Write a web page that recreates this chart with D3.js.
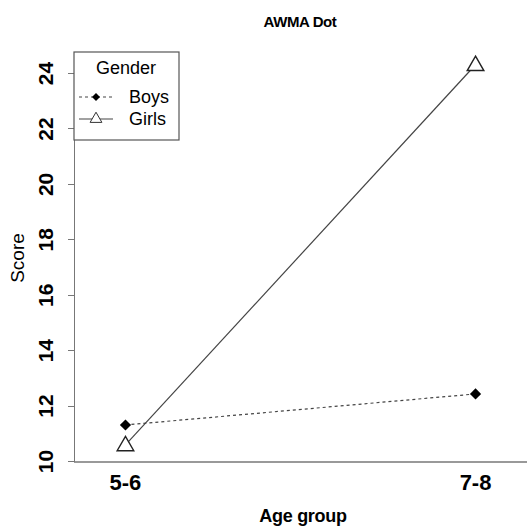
<!DOCTYPE html>
<html lang="en">
<head>
    <meta charset="UTF-8">
    <title>AWMA Dot</title>
    <script src="https://d3js.org/d3.v7.min.js"></script>
    <style>
        body { margin: 0; background: #fff; }
        svg { font-family: "Liberation Sans", Arial, sans-serif; }
        .axis path, .axis line { stroke: #777; shape-rendering: crispEdges; }
    </style>
</head>
<body>
<script>
// Data
const ageGroups = ["5-6", "7-8"];
const boys = [11.3, 12.42];
const girls = [10.58, 24.3];
const yTicks = [10, 12, 14, 16, 18, 20, 22, 24];

const W = 527, H = 528;
const plot = {left: 74, right: 527, top: 52, bottom: 461};

const svg = d3.select("body").append("svg")
    .attr("width", W)
    .attr("height", H);

const x = d3.scalePoint().domain(ageGroups).range([plot.left, plot.right]).padding(0.147);
const y = d3.scaleLinear().domain([10, 24.76]).range([plot.bottom, plot.top]);

// Title
svg.append("text")
    .attr("x", 300).attr("y", 27)
    .attr("text-anchor", "middle")
    .style("font-size", "15px").style("font-weight", "bold")
    .style("letter-spacing", "-0.4px")
    .text("AWMA Dot");

// Y axis
const yAxis = svg.append("g")
    .attr("class", "axis")
    .attr("transform", `translate(${plot.left},0)`)
    .call(d3.axisLeft(y).tickValues(yTicks).tickSize(6).tickSizeOuter(0));
yAxis.select(".domain").attr("stroke-width", 1.5);
yAxis.selectAll(".tick text").remove();
yAxis.selectAll(".tick").append("text")
    .attr("transform", "translate(-29,0) rotate(-90)")
    .attr("text-anchor", "middle")
    .attr("dy", "0.36em")
    .attr("fill", "#000")
    .style("font-size", "21px")
    .style("font-weight", "bold")
    .text(d => d);

// X axis line (no ticks)
svg.append("line")
    .attr("x1", plot.left).attr("x2", plot.right)
    .attr("y1", y(10) + 1).attr("y2", y(10) + 1)
    .attr("stroke", "#777").attr("stroke-width", 1.5);

svg.selectAll(".xlab")
    .data(ageGroups)
    .enter().append("text")
    .attr("class", "xlab")
    .attr("x", d => x(d))
    .attr("y", 490)
    .attr("text-anchor", "middle")
    .style("font-size", "22px").style("font-weight", "bold")
    .text(d => d);

// Axis titles
svg.append("text")
    .attr("x", 303).attr("y", 522)
    .attr("text-anchor", "middle")
    .style("font-size", "18px").style("font-weight", "bold")
    .style("letter-spacing", "-0.3px")
    .text("Age group");

svg.append("text")
    .attr("transform", `translate(24,${258}) rotate(-90)`)
    .attr("text-anchor", "middle")
    .style("font-size", "19px")
    .text("Score");

// Lines
const line = d3.line().x((d, i) => x(ageGroups[i])).y(d => y(d));

svg.append("path")
    .datum(boys)
    .attr("d", line)
    .attr("fill", "none")
    .attr("stroke", "#444")
    .attr("stroke-width", 1.2)
    .attr("stroke-dasharray", "3,3");

svg.append("path")
    .datum(girls)
    .attr("d", line)
    .attr("fill", "none")
    .attr("stroke", "#444")
    .attr("stroke-width", 1.2);

const diamond = d3.symbol().type(d3.symbolDiamond2).size(80);
const triangle = d3.symbol().type(d3.symbolTriangle).size(120);

svg.selectAll(".boy")
    .data(boys)
    .enter().append("path")
    .attr("class", "boy")
    .attr("transform", (d, i) => `translate(${x(ageGroups[i])},${y(d)})`)
    .attr("d", diamond)
    .attr("fill", "#000");

svg.selectAll(".girl")
    .data(girls)
    .enter().append("path")
    .attr("class", "girl")
    .attr("transform", (d, i) => `translate(${x(ageGroups[i])},${y(d) + 1})`)
    .attr("d", triangle)
    .attr("fill", "#fff")
    .attr("stroke", "#222")
    .attr("stroke-width", 1.4);

// Legend
const legend = svg.append("g").attr("transform", "translate(74,52)");
legend.append("rect")
    .attr("width", 105).attr("height", 88)
    .attr("fill", "#fff")
    .attr("stroke", "#555")
    .attr("stroke-width", 1.2);
legend.append("text")
    .attr("x", 52).attr("y", 22)
    .attr("text-anchor", "middle")
    .style("font-size", "18px")
    .text("Gender");

const legendItems = [
    {label: "Boys", dash: "3,3", sym: d3.symbol().type(d3.symbolDiamond2).size(40), fill: "#000", stroke: "none"},
    {label: "Girls", dash: null, sym: d3.symbol().type(d3.symbolTriangle).size(60), fill: "#fff", stroke: "#333"}
];
legendItems.forEach((it, i) => {
    const cy = 45 + i * 22;
    legend.append("line")
        .attr("x1", 5).attr("x2", 39)
        .attr("y1", cy).attr("y2", cy)
        .attr("stroke", "#444").attr("stroke-width", 1.1)
        .attr("stroke-dasharray", it.dash);
    legend.append("path")
        .attr("transform", `translate(22,${cy})`)
        .attr("d", it.sym)
        .attr("fill", it.fill)
        .attr("stroke", it.stroke);
    legend.append("text")
        .attr("x", 55).attr("y", cy)
        .attr("dy", "0.36em")
        .style("font-size", "18px")
        .text(it.label);
});
</script>
</body>
</html>
